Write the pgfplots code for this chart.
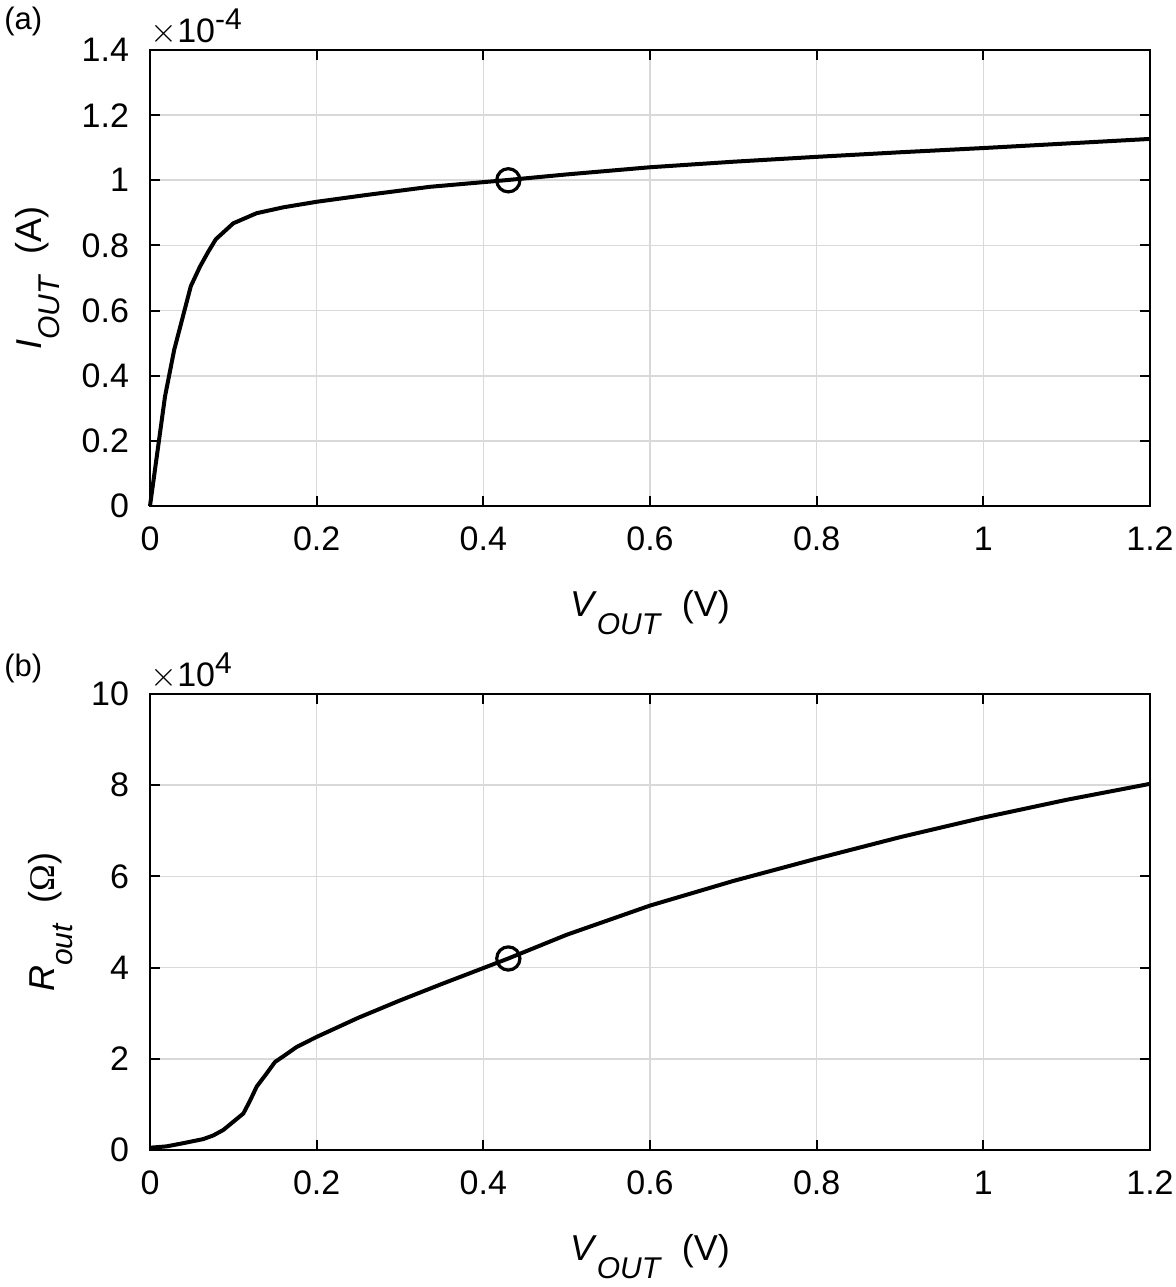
\documentclass[border=0pt]{standalone}
\usepackage{fontspec}
\setmainfont{Liberation Sans}
\newfontfamily\serifom{Liberation Serif}
\usepackage{pgfplots}
\pgfplotsset{compat=1.18}

% MATLAB-like subscript / superscript (larger than LaTeX's)
\newcommand{\msub}[1]{\raisebox{-9pt}{\fontsize{15}{17}\selectfont\textit{#1}}}
\newcommand{\msup}[1]{\raisebox{6.5pt}{\fontsize{15}{17}\selectfont #1}}

\pgfplotsset{
  matstyle/.style={
    scale only axis,
    width=500pt, height=228pt,
    xmin=0, xmax=1.2,
    xtick={0,0.2,...,1.2},
    grid=major,
    grid style={line width=0.8pt, color=black!15},
    axis line style={line width=1pt},
    tick style={line width=1pt, black},
    major tick length=5pt,
    tick align=inside,
    xtick pos=both, ytick pos=both,
    /pgf/number format/assume math mode=true,
    ticklabel style={font=\fontsize{17}{20}\selectfont},
    xticklabel style={yshift=-7pt},
    yticklabel style={xshift=-7pt},
    label style={font=\fontsize{18}{21}\selectfont},
    xlabel={\textit{V}\msub{OUT}~~(V)},
    xlabel style={at={(axis description cs:0.5,0)}, anchor=base, yshift=-55pt},
    scaled ticks=false,
    clip=false,
  },
}

\begin{document}
\begin{tikzpicture}
\begin{axis}[matstyle, name=top,
  ymin=0, ymax=1.4, ytick={0,0.2,...,1.4},
  yticklabels={0,0.2,0.4,0.6,0.8,1,1.2,1.4},
  ylabel={\textit{I}\msub{OUT}~~(A)},
  % rotated label: its own y axis points to the left
  ylabel style={at={(axis description cs:0,0.5)}, anchor=base, yshift=54pt},
]
\addplot[black, line width=2pt] coordinates {
  (0,0)(0.018,0.336)(0.029,0.479)(0.049,0.675)(0.060,0.735)(0.070,0.781)
  (0.079,0.819)(0.100,0.868)(0.128,0.899)(0.160,0.917)(0.2,0.934)
  (0.26,0.955)(0.336,0.980)(0.43,1.001)(0.5,1.018)(0.6,1.040)(0.7,1.057)
  (0.8,1.072)(0.9,1.086)(1.0,1.099)(1.1,1.113)(1.2,1.127)
};
\addplot[black, line width=1.6pt, only marks, mark=o, mark size=5.8pt] coordinates {(0.43,1.0)};
\node[anchor=base west, font=\fontsize{17}{20}\selectfont, inner sep=0pt] at (rel axis cs:0,1) [yshift=4pt]{$\times$10\msup{-4}};
\node[anchor=base west, font=\fontsize{15.5}{18}\selectfont, inner sep=0pt] at (rel axis cs:0,1) [xshift=-73pt, yshift=10.5pt]{(a)};
\coordinate (tl) at (rel axis cs:0,1);
\end{axis}

\begin{axis}[matstyle, at={(top.south west)}, anchor=south west, yshift=-322pt,
  ymin=0, ymax=10, ytick={0,2,...,10},
  ylabel={\textit{R}\msub{out}~~({\serifom Ω})},
  ylabel style={at={(axis description cs:0,0.5)}, anchor=base, yshift=47.5pt},
]
\addplot[black, line width=2pt] coordinates {
  (0,0.05)(0.02,0.08)(0.04,0.15)(0.064,0.24)(0.076,0.32)(0.088,0.44)(0.1,0.62)
  (0.112,0.80)(0.120,1.08)(0.128,1.39)(0.14,1.68)(0.15,1.93)(0.162,2.08)
  (0.176,2.26)(0.2,2.48)(0.25,2.90)(0.3,3.28)(0.35,3.64)(0.43,4.20)
  (0.5,4.72)(0.6,5.36)(0.7,5.90)(0.8,6.39)(0.9,6.86)(1.0,7.29)(1.1,7.68)(1.2,8.03)
};
\addplot[black, line width=1.6pt, only marks, mark=o, mark size=5.8pt] coordinates {(0.43,4.2)};
\node[anchor=base west, font=\fontsize{17}{20}\selectfont, inner sep=0pt] at (rel axis cs:0,1) [yshift=4pt]{$\times$10\msup{4}};
\node[anchor=base west, font=\fontsize{15.5}{18}\selectfont, inner sep=0pt] at (rel axis cs:0,1) [xshift=-73pt, yshift=9pt]{(b)};
\end{axis}
\pgfresetboundingbox
\path[use as bounding box] ([shift={(-75pt,25pt)}]tl) rectangle ([shift={(513pt,-618.5pt)}]tl);
\end{tikzpicture}
\end{document}
